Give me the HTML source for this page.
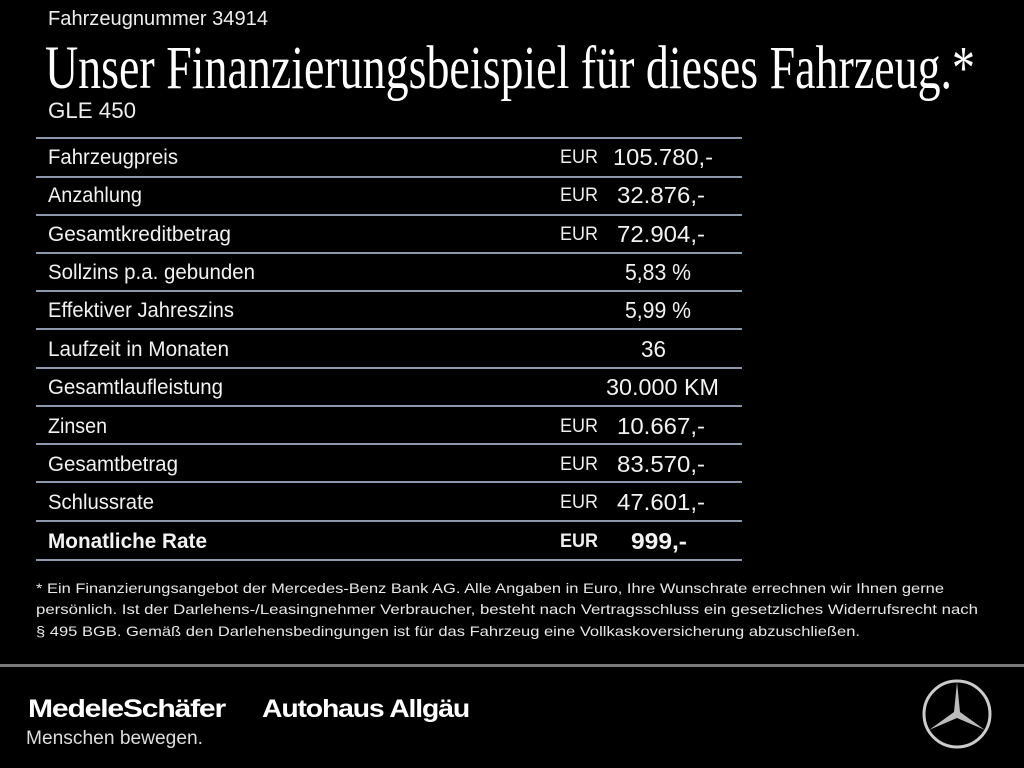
<!DOCTYPE html>
<html><head><meta charset="utf-8"><style>
body{margin:0;width:1024px;height:768px;background:#000;overflow:hidden;position:relative;font-family:"Liberation Sans",sans-serif;color:#fff}
.t{position:absolute;white-space:nowrap;transform-origin:0 50%;line-height:1}
.l{position:absolute;left:36px;width:706px;height:2px;background:#8d99aa}
.r{font-size:21px;color:#f2f2f2}
.e{font-size:19px;color:#eee}
.v{font-size:23px;color:#f2f2f2}
.f{font-size:14px;color:#e8e8e8}
</style></head><body>
<div class="t" style="left:48px;top:9px;font-size:20px;color:#eee" data-w="220">Fahrzeugnummer 34914</div>
<div class="t" style="left:45px;top:38px;font-family:'Liberation Serif',serif;font-size:61px" data-w="930">Unser Finanzierungsbeispiel für dieses Fahrzeug.*</div>
<div class="t" style="left:48px;top:100px;font-size:22px;color:#eee" data-w="88">GLE 450</div>

<div class="l" style="top:137px"></div><div class="l" style="top:176px"></div><div class="l" style="top:214px"></div><div class="l" style="top:252px"></div><div class="l" style="top:290px"></div><div class="l" style="top:328px"></div><div class="l" style="top:367px"></div><div class="l" style="top:405px"></div><div class="l" style="top:443px"></div><div class="l" style="top:481px"></div><div class="l" style="top:520px"></div><div class="l" style="top:559px"></div>

<div class="t r" style="left:48px;top:147px" data-w="130">Fahrzeugpreis</div>
<div class="t r" style="left:48px;top:185px" data-w="94">Anzahlung</div>
<div class="t r" style="left:48px;top:224px" data-w="183">Gesamtkreditbetrag</div>
<div class="t r" style="left:48px;top:262px" data-w="207">Sollzins p.a. gebunden</div>
<div class="t r" style="left:48px;top:300px" data-w="186">Effektiver Jahreszins</div>
<div class="t r" style="left:48px;top:339px" data-w="181">Laufzeit in Monaten</div>
<div class="t r" style="left:48px;top:377px" data-w="175">Gesamtlaufleistung</div>
<div class="t r" style="left:48px;top:416px" data-w="59">Zinsen</div>
<div class="t r" style="left:48px;top:454px" data-w="130">Gesamtbetrag</div>
<div class="t r" style="left:48px;top:492px" data-w="106">Schlussrate</div>
<div class="t r" style="left:48px;top:531px;font-weight:bold" data-w="159">Monatliche Rate</div>

<div class="t e" style="left:560px;top:148px" data-w="38">EUR</div>
<div class="t e" style="left:560px;top:186px" data-w="38">EUR</div>
<div class="t e" style="left:560px;top:225px" data-w="38">EUR</div>
<div class="t e" style="left:560px;top:417px" data-w="38">EUR</div>
<div class="t e" style="left:560px;top:455px" data-w="38">EUR</div>
<div class="t e" style="left:560px;top:493px" data-w="38">EUR</div>
<div class="t e" style="left:560px;top:532px;font-weight:bold" data-w="38">EUR</div>

<div class="t v" style="left:613px;top:146px" data-w="100">105.780,-</div>
<div class="t v" style="left:617px;top:184px" data-w="88">32.876,-</div>
<div class="t v" style="left:617px;top:223px" data-w="88">72.904,-</div>
<div class="t v" style="left:625px;top:261px" data-w="66">5,83 %</div>
<div class="t v" style="left:625px;top:299px" data-w="66">5,99 %</div>
<div class="t v" style="left:641px;top:338px" data-w="25">36</div>
<div class="t v" style="left:606px;top:376px" data-w="113">30.000 KM</div>
<div class="t v" style="left:617px;top:415px" data-w="88">10.667,-</div>
<div class="t v" style="left:617px;top:453px" data-w="88">83.570,-</div>
<div class="t v" style="left:617px;top:491px" data-w="88">47.601,-</div>
<div class="t v" style="left:631px;top:530px;font-weight:bold" data-w="56">999,-</div>

<div class="t f" style="left:36px;top:581px" data-w="908">* Ein Finanzierungsangebot der Mercedes-Benz Bank AG. Alle Angaben in Euro, Ihre Wunschrate errechnen wir Ihnen gerne</div>
<div class="t f" style="left:36px;top:602px" data-w="942">persönlich. Ist der Darlehens-/Leasingnehmer Verbraucher, besteht nach Vertragsschluss ein gesetzliches Widerrufsrecht nach</div>
<div class="t f" style="left:36px;top:624px" data-w="824">§ 495 BGB. Gemäß den Darlehensbedingungen ist für das Fahrzeug eine Vollkaskoversicherung abzuschließen.</div>

<div style="position:absolute;left:0;top:664px;width:1024px;height:3px;background:#7a7a7a"></div>
<div class="t" style="left:28px;top:697px;font-size:25px;font-weight:bold;letter-spacing:-1px" data-w="197">MedeleSchäfer</div>
<div class="t" style="left:262px;top:697px;font-size:25px;font-weight:bold;letter-spacing:-1px" data-w="207">Autohaus Allgäu</div>
<div class="t" style="left:26px;top:729px;font-size:19px;color:#ddd" data-w="177">Menschen bewegen.</div>

<svg style="position:absolute;left:920px;top:677px" width="74" height="74" viewBox="0 0 74 74">
<circle cx="37" cy="37" r="33" fill="none" stroke="#ccc" stroke-width="3"/>
<polygon points="37,5 40,35 65,53 37,41 9,53 34,35" fill="#bbb"/>
</svg>
<script>
document.querySelectorAll('[data-w]').forEach(function(e){var w=e.getBoundingClientRect().width;var t=+e.getAttribute('data-w');if(w>0)e.style.transform='scaleX('+(t/w)+')';});
</script>
</body></html>
